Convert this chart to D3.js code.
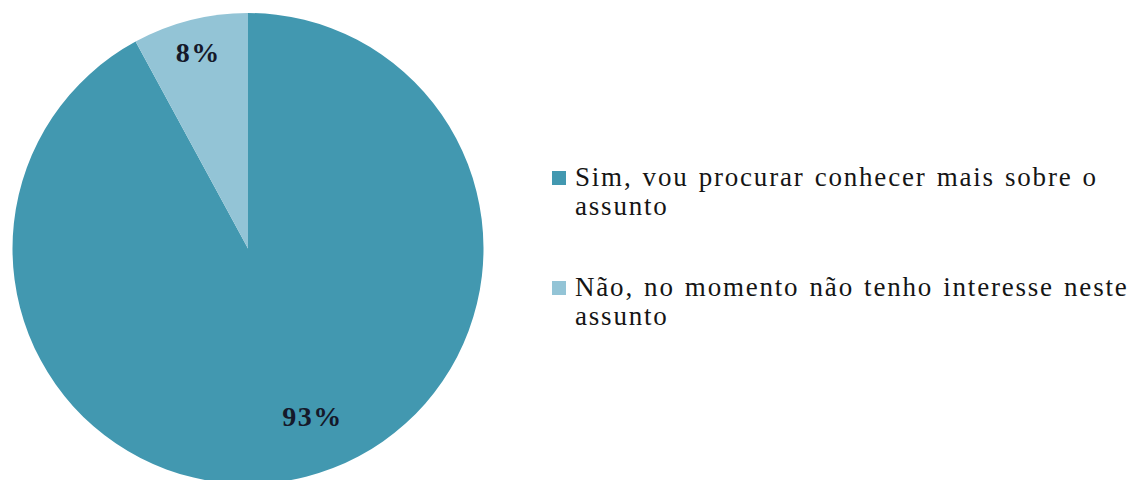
<!DOCTYPE html>
<html>
<head>
<meta charset="utf-8">
<script src="https://cdn.jsdelivr.net/npm/d3@7/dist/d3.min.js"></script>
<style>
  html, body { margin: 0; padding: 0; background: #fff; }
  svg { display: block; }
</style>
</head>
<body>
<svg id="chart" width="1141" height="480"></svg>
<script>
// Survey answers and their shares (%)
const categories = [
  "Sim, vou procurar conhecer mais sobre o assunto",
  "Não, no momento não tenho interesse neste assunto"
];
const values = [93, 8];
const valueLabels = ["93%", "8%"];
const colors = ["#4298B0", "#93C4D6"];

const width = 1141, height = 480;
const cx = 248, cy = 248.5, radius = 235.5;
const serif = "'Liberation Serif', 'Times New Roman', 'DejaVu Serif', serif";

const svg = d3.select("#chart");

const pie = d3.pie().sort(null).value(d => d)
  .startAngle(0).endAngle(2 * Math.PI);
const arcs = pie(values);

const arc = d3.arc().innerRadius(0).outerRadius(radius);

const g = svg.append("g").attr("transform", `translate(${cx},${cy})`);

g.selectAll("path.slice")
  .data(arcs)
  .join("path")
  .attr("class", "slice")
  .attr("d", arc)
  .attr("fill", (d, i) => colors[i]);

// label placement: fraction of radius and angular nudge (radians) per slice
const labelRadius = [0.765, 0.86];
const labelNudge = [-0.118, 0];

g.selectAll("text.value")
  .data(arcs)
  .join("text")
  .attr("class", "value")
  .attr("x", (d, i) => {
    const a = (d.startAngle + d.endAngle) / 2 + labelNudge[i];
    return Math.sin(a) * radius * labelRadius[i];
  })
  .attr("y", (d, i) => {
    const a = (d.startAngle + d.endAngle) / 2 + labelNudge[i];
    return -Math.cos(a) * radius * labelRadius[i];
  })
  .attr("dy", "0.35em")
  .attr("text-anchor", "middle")
  .attr("font-family", serif)
  .attr("font-size", 28)
  .attr("font-weight", "bold")
  .attr("letter-spacing", 1.5)
  .attr("fill", "#15192a")
  .text((d, i) => valueLabels[i]);

// Legend
const legendX = 552, textX = 575;
const rowTop = [171, 281];
const lineGap = 29.5;
const fontSize = 27, spacing = 1.8, wordSpacing = 1.6;
const maxWidth = width - textX - 6;

const legend = svg.append("g");

categories.forEach((name, i) => {
  legend.append("rect")
    .attr("x", legendX).attr("y", rowTop[i])
    .attr("width", 14).attr("height", 14)
    .attr("fill", colors[i]);

  const t = legend.append("text")
    .attr("x", textX)
    .attr("y", rowTop[i] + 14.5)
    .attr("font-family", serif)
    .attr("font-size", fontSize)
    .attr("letter-spacing", spacing)
    .attr("word-spacing", wordSpacing)
    .attr("fill", "#151515");

  // wrap words to the available width
  const words = name.split(" ");
  let line = [];
  let tspan = t.append("tspan").attr("x", textX).attr("dy", 0);
  words.forEach(w => {
    line.push(w);
    tspan.text(line.join(" "));
    if (tspan.node().getComputedTextLength() > maxWidth && line.length > 1) {
      line.pop();
      tspan.text(line.join(" "));
      line = [w];
      tspan = t.append("tspan").attr("x", textX).attr("dy", lineGap).text(w);
    }
  });
});
</script>
</body>
</html>
